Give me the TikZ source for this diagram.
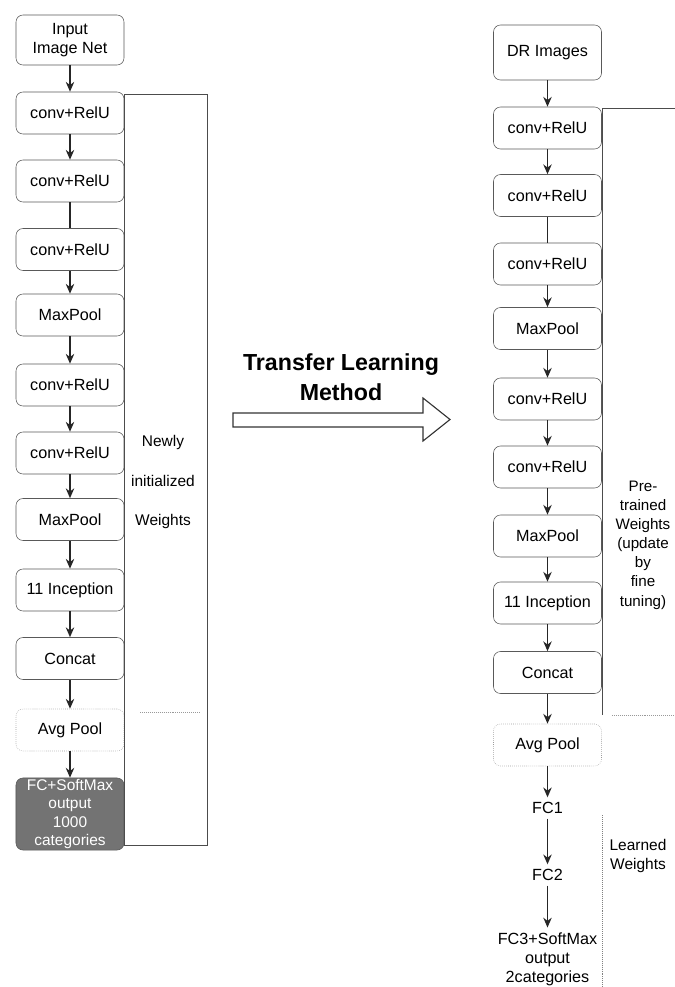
\documentclass[tikz,border=0pt]{standalone}
\usepackage{fontspec}
\setmainfont{Liberation Sans}
\usepackage{tikz}
\usetikzlibrary{positioning}
\usetikzlibrary{arrows.meta}
\tikzset{flow arrow/.style={-{Stealth[length=7pt, width=6pt]}, line width=1pt, black!85}}
\tikzset{flow line/.style={line width=1pt, black!85}}
\tikzstyle{layer} = [rectangle, rounded corners=5pt, draw=black!65, minimum width=2.7cm, minimum height=1.05cm, align=center, inner sep=1pt]
\tikzstyle{faint layer} = [layer, draw=black!40, densely dotted]
\tikzstyle{frame} = [draw=black!70, semithick]

\begin{document}
\begin{tikzpicture}[x=0.025cm, y=-0.025cm]
  \tikzstyle{every node}=[font=\fontsize{11.5}{13.5}\selectfont]
  \useasboundingbox (0,0) rectangle (675,987);

  % ImageNet model
  \node [layer, minimum height=1.25cm] (input)   at (70,40)    {Input\\Image Net};
  \node [layer] (conva)   at (70,113)   {conv+RelU};
  \node [layer] (convb)   at (70,181)   {conv+RelU};
  \node [layer] (convc)   at (70,249.5) {conv+RelU};
  \node [layer] (poola)   at (70,315)   {MaxPool};
  \node [layer] (convd)   at (70,385)   {conv+RelU};
  \node [layer] (conve)   at (70,453)   {conv+RelU};
  \node [layer] (poolb)   at (70,519.5) {MaxPool};
  \node [layer] (incep)   at (70,590)   {11 Inception};
  \node [layer] (concat)  at (70,658.5) {Concat};
  \node [faint layer] (avgpool) at (70,730) {Avg Pool};
  \node [layer, fill=black!55, text=white, minimum height=1.7cm, font=\fontsize{11}{13}\selectfont] (fcsoft) at (70,814) {FC+SoftMax\\output\\1000\\categories};

  \draw [frame] (124,94) rectangle (207,845);
  \draw [black!40, densely dotted] (140,712) -- (200,712);
  \node [align=center, font=\fontsize{11}{28}\selectfont] (newly) at (163,482) {Newly\\initialized\\Weights};

  \draw [flow arrow] (input.south)   -- (conva.north);
  \draw [flow arrow] (conva.south)   -- (convb.north);
  \draw [flow line]  (convb.south)   -- (convc.north);
  \draw [flow arrow] (convc.south)   -- (poola.north);
  \draw [flow arrow] (poola.south)   -- (convd.north);
  \draw [flow arrow] (convd.south)   -- (conve.north);
  \draw [flow arrow] (conve.south)   -- (poolb.north);
  \draw [flow arrow] (poolb.south)   -- (incep.north);
  \draw [flow arrow] (incep.south)   -- (concat.north);
  \draw [flow arrow] (concat.south)  -- (avgpool.north);
  \draw [flow arrow] (avgpool.south) -- (fcsoft.north);

  % transfer
  \node [align=center, font=\bfseries\fontsize{16.5}{21}\selectfont] (method) at (341,377) {Transfer Learning\\Method};
  \draw [thick, black!80, fill=white] (233,413) -- (423,413) -- (423,398) -- (450,419.5) -- (423,441) -- (423,427) -- (233,427) -- cycle;

  % DR model
  \node [layer, minimum height=1.375cm] (dr) at (547.5,52.5) {DR Images};
  \node [layer] (rconva)   at (547.5,128)   {conv+RelU};
  \node [layer] (rconvb)   at (547.5,195.5) {conv+RelU};
  \node [layer] (rconvc)   at (547.5,264)   {conv+RelU};
  \node [layer] (rpoola)   at (547.5,328.5) {MaxPool};
  \node [layer] (rconvd)   at (547.5,399)   {conv+RelU};
  \node [layer] (rconve)   at (547.5,467)   {conv+RelU};
  \node [layer] (rpoolb)   at (547.5,536)   {MaxPool};
  \node [layer] (rincep)   at (547.5,603)   {11 Inception};
  \node [layer] (rconcat)  at (547.5,672.5) {Concat};
  \node [faint layer] (ravgpool) at (547.5,745) {Avg Pool};
  \node (fca) at (547.5,808) {FC1};
  \node (fcb) at (547.5,875) {FC2};
  \node [align=center] (fcc) at (547.5,959) {FC3+SoftMax\\output\\2categories};

  \draw [frame] (675,108) -- (602,108) -- (602,715);
  \draw [black!40, densely dotted] (612,715) -- (675,715);
  \draw [black!50, densely dotted] (602,815) -- (602,987);
  \node [align=center, font=\fontsize{10.8}{13.6}\selectfont] (pretrained) at (643,545) {Pre-\\trained\\Weights\\(update\\by\\fine\\tuning)};
  \node [align=center, font=\fontsize{11}{13}\selectfont] (learned) at (638,856) {Learned\\Weights};

  \draw [flow arrow] (dr.south)       -- (rconva.north);
  \draw [flow arrow] (rconva.south)   -- (rconvb.north);
  \draw [flow line]  (rconvb.south)   -- (rconvc.north);
  \draw [flow arrow] (rconvc.south)   -- (rpoola.north);
  \draw [flow arrow] (rpoola.south)   -- (rconvd.north);
  \draw [flow arrow] (rconvd.south)   -- (rconve.north);
  \draw [flow arrow] (rconve.south)   -- (rpoolb.north);
  \draw [flow arrow] (rpoolb.south)   -- (rincep.north);
  \draw [flow arrow] (rincep.south)   -- (rconcat.north);
  \draw [flow arrow] (rconcat.south)  -- (ravgpool.north);
  \draw [flow arrow] (ravgpool.south) -- (fca.north);
  \draw [flow arrow] (fca.south)      -- (fcb.north);
  \draw [flow arrow] (fcb.south)      -- (fcc.north);
\end{tikzpicture}
\end{document}
